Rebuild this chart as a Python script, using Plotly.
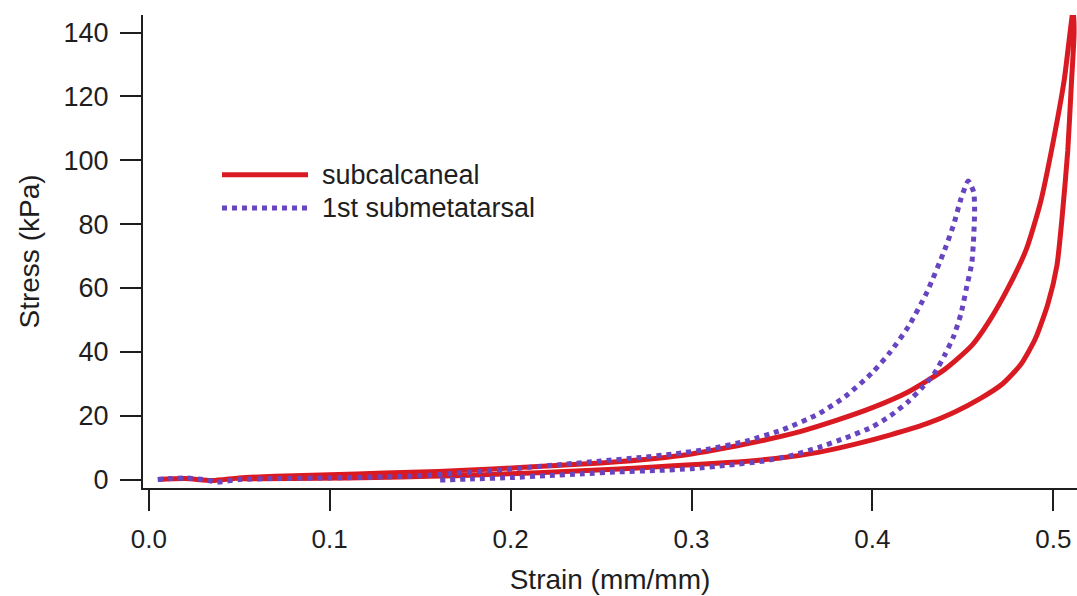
import plotly.graph_objects as go

# subcalcaneal: loading (upper) branch then unloading (lower) branch
subcal_strain = [0.005, 0.02, 0.035, 0.05, 0.07, 0.10, 0.13, 0.16, 0.19, 0.22, 0.25, 0.28, 0.30, 0.32,
                 0.34, 0.36, 0.38, 0.40, 0.42, 0.44, 0.455, 0.465, 0.475, 0.485, 0.493, 0.500, 0.506, 0.511,
                 0.5115, 0.510, 0.508, 0.505, 0.502, 0.497, 0.490, 0.482, 0.472, 0.46, 0.445, 0.43, 0.41,
                 0.39, 0.37, 0.35, 0.32, 0.29, 0.26, 0.23, 0.20, 0.17, 0.14, 0.11, 0.08, 0.05]
subcal_stress = [0.0, 0.3, -0.3, 0.5, 1.0, 1.5, 2.0, 2.5, 3.3, 4.2, 5.2, 6.6, 8.0, 10.0,
                 12.3, 15.0, 18.5, 22.5, 27.5, 34.5, 42, 50, 60, 72, 87, 106, 125, 147,
                 140, 124, 103, 83, 67, 55, 44, 36, 30, 25.5, 21, 17.5, 14,
                 11, 8.5, 6.8, 5.3, 4.3, 3.3, 2.5, 1.8, 1.2, 0.8, 0.5, 0.3, 0.2]

# 1st submetatarsal
submet_strain = [0.005, 0.012, 0.02, 0.03, 0.038, 0.05, 0.07, 0.10, 0.13, 0.15, 0.17, 0.19, 0.21, 0.23,
                 0.25, 0.27, 0.29, 0.31, 0.33, 0.35, 0.37, 0.385, 0.40, 0.41, 0.42, 0.43, 0.44, 0.445,
                 0.449, 0.453,
                 0.456, 0.4565, 0.456, 0.455, 0.452, 0.449, 0.445, 0.440, 0.434, 0.427, 0.42, 0.41, 0.40,
                 0.385, 0.37, 0.355, 0.34, 0.32, 0.30, 0.28, 0.26, 0.24, 0.22, 0.20, 0.18, 0.16]
submet_stress = [0.0, 0.3, 0.5, 0.0, -0.8, 0.0, 0.3, 0.5, 0.8, 1.2, 2.0, 2.8, 3.8, 4.8,
                 5.8, 6.8, 8.0, 9.6, 12.0, 15.5, 20.5, 26, 33.5, 40, 48, 58.5, 72, 80,
                 88, 93.5,
                 90, 84, 76, 68, 60, 52, 45, 39, 33, 28.5, 24.5, 20, 16.5,
                 13, 10, 7.5, 5.8, 4.5, 3.4, 2.8, 2.4, 1.8, 1.2, 0.6, 0.2, -0.2]

series_names = ["subcalcaneal", "1st submetatarsal"]
x_ticks = [0.0, 0.1, 0.2, 0.3, 0.4, 0.5]
x_ticklabels = ["0.0", "0.1", "0.2", "0.3", "0.4", "0.5"]
y_ticks = [0, 20, 40, 60, 80, 100, 120, 140]

RED = "#DA1A22"
PURPLE = "#6845C0"
INK = "#1E1E1E"
FONT = "Liberation Sans, Arial, sans-serif"

fig = go.Figure()
fig.add_trace(go.Scatter(x=subcal_strain, y=subcal_stress, mode="lines", name=series_names[0],
                         line=dict(color=RED, width=5, shape="spline", smoothing=0.6), showlegend=False))
fig.add_trace(go.Scatter(x=submet_strain, y=submet_stress, mode="lines", name=series_names[1],
                         line=dict(color=PURPLE, width=5, dash="5px,5px", shape="spline", smoothing=0.6),
                         showlegend=False))

# manual legend (long line samples as in the reference)
legend_rows = [(0.662, RED, "solid", series_names[0]), (0.592, PURPLE, "5px,5px", series_names[1])]
for yy, col, dash, label in legend_rows:
    fig.add_shape(type="line", xref="paper", yref="paper", x0=0.0846, x1=0.1767, y0=yy, y1=yy,
                  line=dict(color=col, width=5, dash=dash))
    fig.add_annotation(xref="paper", yref="paper", x=0.1895, y=yy, xanchor="left", yanchor="middle",
                       text=label, showarrow=False, font=dict(size=27, color=INK, family=FONT))

fig.update_layout(
    width=1077, height=596,
    margin=dict(l=143, r=0, t=15, b=108, autoexpand=False),
    paper_bgcolor="white", plot_bgcolor="white",
    font=dict(family=FONT, color=INK),
    xaxis=dict(range=[-0.0032, 0.5131], tickvals=x_ticks, ticktext=x_ticklabels, automargin=False,
               showgrid=False, zeroline=False, showline=True, linecolor=INK, linewidth=2,
               ticks="outside", ticklen=21, tickwidth=2, tickcolor=INK,
               tickfont=dict(size=26, color=INK), ticklabelstandoff=6,
               title=dict(text="Strain (mm/mm)", font=dict(size=28, color=INK), standoff=16)),
    yaxis=dict(range=[-2.66, 145.5], tickvals=y_ticks, automargin=False,
               showgrid=False, zeroline=False, showline=True, linecolor=INK, linewidth=2,
               ticks="outside", ticklen=21, tickwidth=2, tickcolor=INK,
               tickfont=dict(size=27, color=INK), ticklabelstandoff=6,
               title=dict(text="Stress (kPa)", font=dict(size=28, color=INK), standoff=16)),
)

fig.write_html("out.html", config={"displayModeBar": False},
               post_script="document.body.style.margin='0';document.body.style.overflow='hidden';")
